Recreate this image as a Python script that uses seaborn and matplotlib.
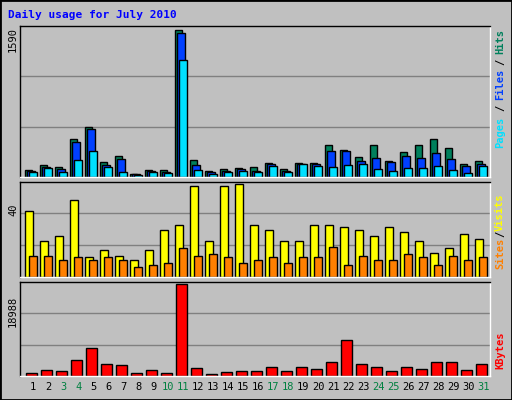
import numpy as np
import pandas as pd
import matplotlib
matplotlib.use("Agg")
import matplotlib.pyplot as plt
import seaborn as sns

days = list(range(1, 32))
hits = [79,133,104,406,536,158,223,36,72,72,1590,180,61,83,94,104,147,83,147,147,342,288,212,342,169,266,342,406,309,137,169]
files = [68,112,83,374,514,133,191,29,68,58,1557,126,50,68,83,68,137,68,144,137,277,277,169,201,158,223,201,255,191,115,144]
pages = [58,94,58,180,277,104,50,25,58,40,1259,72,29,50,61,50,122,50,137,115,104,126,137,83,61,94,94,115,72,40,115]
visits = [28.4,15.5,17.6,33.2,8.4,11.6,9.2,7.5,11.6,20.2,22.4,39.3,15.5,39.3,40,22.4,20.2,15.5,15.5,22.4,22.4,21.5,20.2,17.6,21.5,19.3,15.5,10.2,12.4,18.5,16.3]
sites = [9.2,9.2,7.5,8.4,7.5,8.4,7.5,4.5,5.3,6.2,12.3,9.2,10.1,8.4,6.2,7.5,8.4,6.2,8.4,8.4,13.1,5.3,9.2,7.5,7.5,10.1,8.4,5.3,9.2,7.5,8.4]
kbytes = [693,1317,1109,3396,5683,2564,2356,693,1317,693,18988,1732,485,901,1109,1109,1940,1109,1940,1525,2980,7346,2564,1940,1109,1940,1525,2980,2980,1317,2564]
weekend = [3,4,10,11,17,18,24,25,31]

sns.set_style("white")
plt.rcParams['font.family'] = ['DejaVu Sans Mono', 'DejaVu Sans']
BG = "#C0C0C0"
W, H = 512, 400
fig = plt.figure(figsize=(W/100, H/100), dpi=100, facecolor=BG)

def axes_px(top, bottom, left=20, right=490):
    return fig.add_axes([left/W, 1-bottom/H, (right-left)/W, (bottom-top)/H])

df = pd.DataFrame(dict(day=days, hits=hits, files=files, pages=pages,
                       visits=visits, sites=sites, kbytes=kbytes))

def draw(ax, col, offset, width, color):
    d = pd.DataFrame({"x": df["day"] + offset + width/2, "y": df[col]})
    sns.barplot(data=d, x="x", y="y", native_scale=True, width=width,
                color=color, edgecolor="black", linewidth=1, saturation=1, ax=ax)

def style(ax, ymax):
    ax.set_facecolor(BG)
    ax.set_xlim(0.667, 32)
    ax.set_ylim(0, ymax)
    for k in (1/3, 2/3):
        ax.axhline(ymax*k, color="#808080", lw=1, zorder=0)
    ax.set_xticks([]); ax.set_yticks([])
    ax.set_xlabel(""); ax.set_ylabel("")
    ax.spines['left'].set_color('black'); ax.spines['top'].set_color('black')
    ax.spines['right'].set_color('white'); ax.spines['bottom'].set_color('white')
    for s in ax.spines.values():
        s.set_linewidth(1)

ax1 = axes_px(26, 177)
draw(ax1, "hits", 0.0, 0.5, "#00805C")
draw(ax1, "files", 0.15, 0.5, "#0040FF")
draw(ax1, "pages", 0.28, 0.5, "#00E0FF")
style(ax1, 1629)

ax2 = axes_px(181.5, 277)
draw(ax2, "visits", 0.0, 0.55, "#FFFF00")
draw(ax2, "sites", 0.27, 0.5, "#FF8000")
style(ax2, 41.1)

ax3 = axes_px(281.5, 376)
draw(ax3, "kbytes", 0.07, 0.7, "#FF0000")
style(ax3, 19528)
ax3.set_xticks([d + 0.55 for d in days])
ax3.set_xticklabels([str(d) for d in days], fontsize=7.5)
ax3.tick_params(axis='x', length=0, pad=4)
for lbl, d in zip(ax3.get_xticklabels(), days):
    lbl.set_color("#008040" if d in weekend else "black")
ax3.set_xlabel("")

def ftext(x, y, s, **kw):
    fig.text(x/W, 1-y/H, s, **kw)

ftext(8, 15, "Daily usage for July 2010", color="#0000FF", fontsize=8,
      fontweight="bold", va="center", ha="left")
for y, s in [(27, "1590"), (204, "40"), (296, "18988")]:
    ftext(13, y, s, rotation=90, fontsize=7.5, va="top", ha="center", color="black")

def rlabel(items):
    for y, s, c in items:
        ftext(500, y, s, rotation=90, fontsize=7.5, va="center", ha="center", color=c, fontweight="bold")

rlabel([(42, "Hits", "#00805C"), (62, "/", "black"), (84, "Files", "#0040FF"),
        (108, "/", "black"), (132, "Pages", "#00E0FF")])
rlabel([(212, "Visits", "#FFFF00"), (234, "/", "black"), (253, "Sites", "#FF8000")])
rlabel([(350, "KBytes", "#FF0000")])

fig.patches.append(plt.Rectangle((0, 0), 1, 1, transform=fig.transFigure,
                                 fill=False, edgecolor="black", lw=2))
fig.savefig("out.png", dpi=100, facecolor=BG)
